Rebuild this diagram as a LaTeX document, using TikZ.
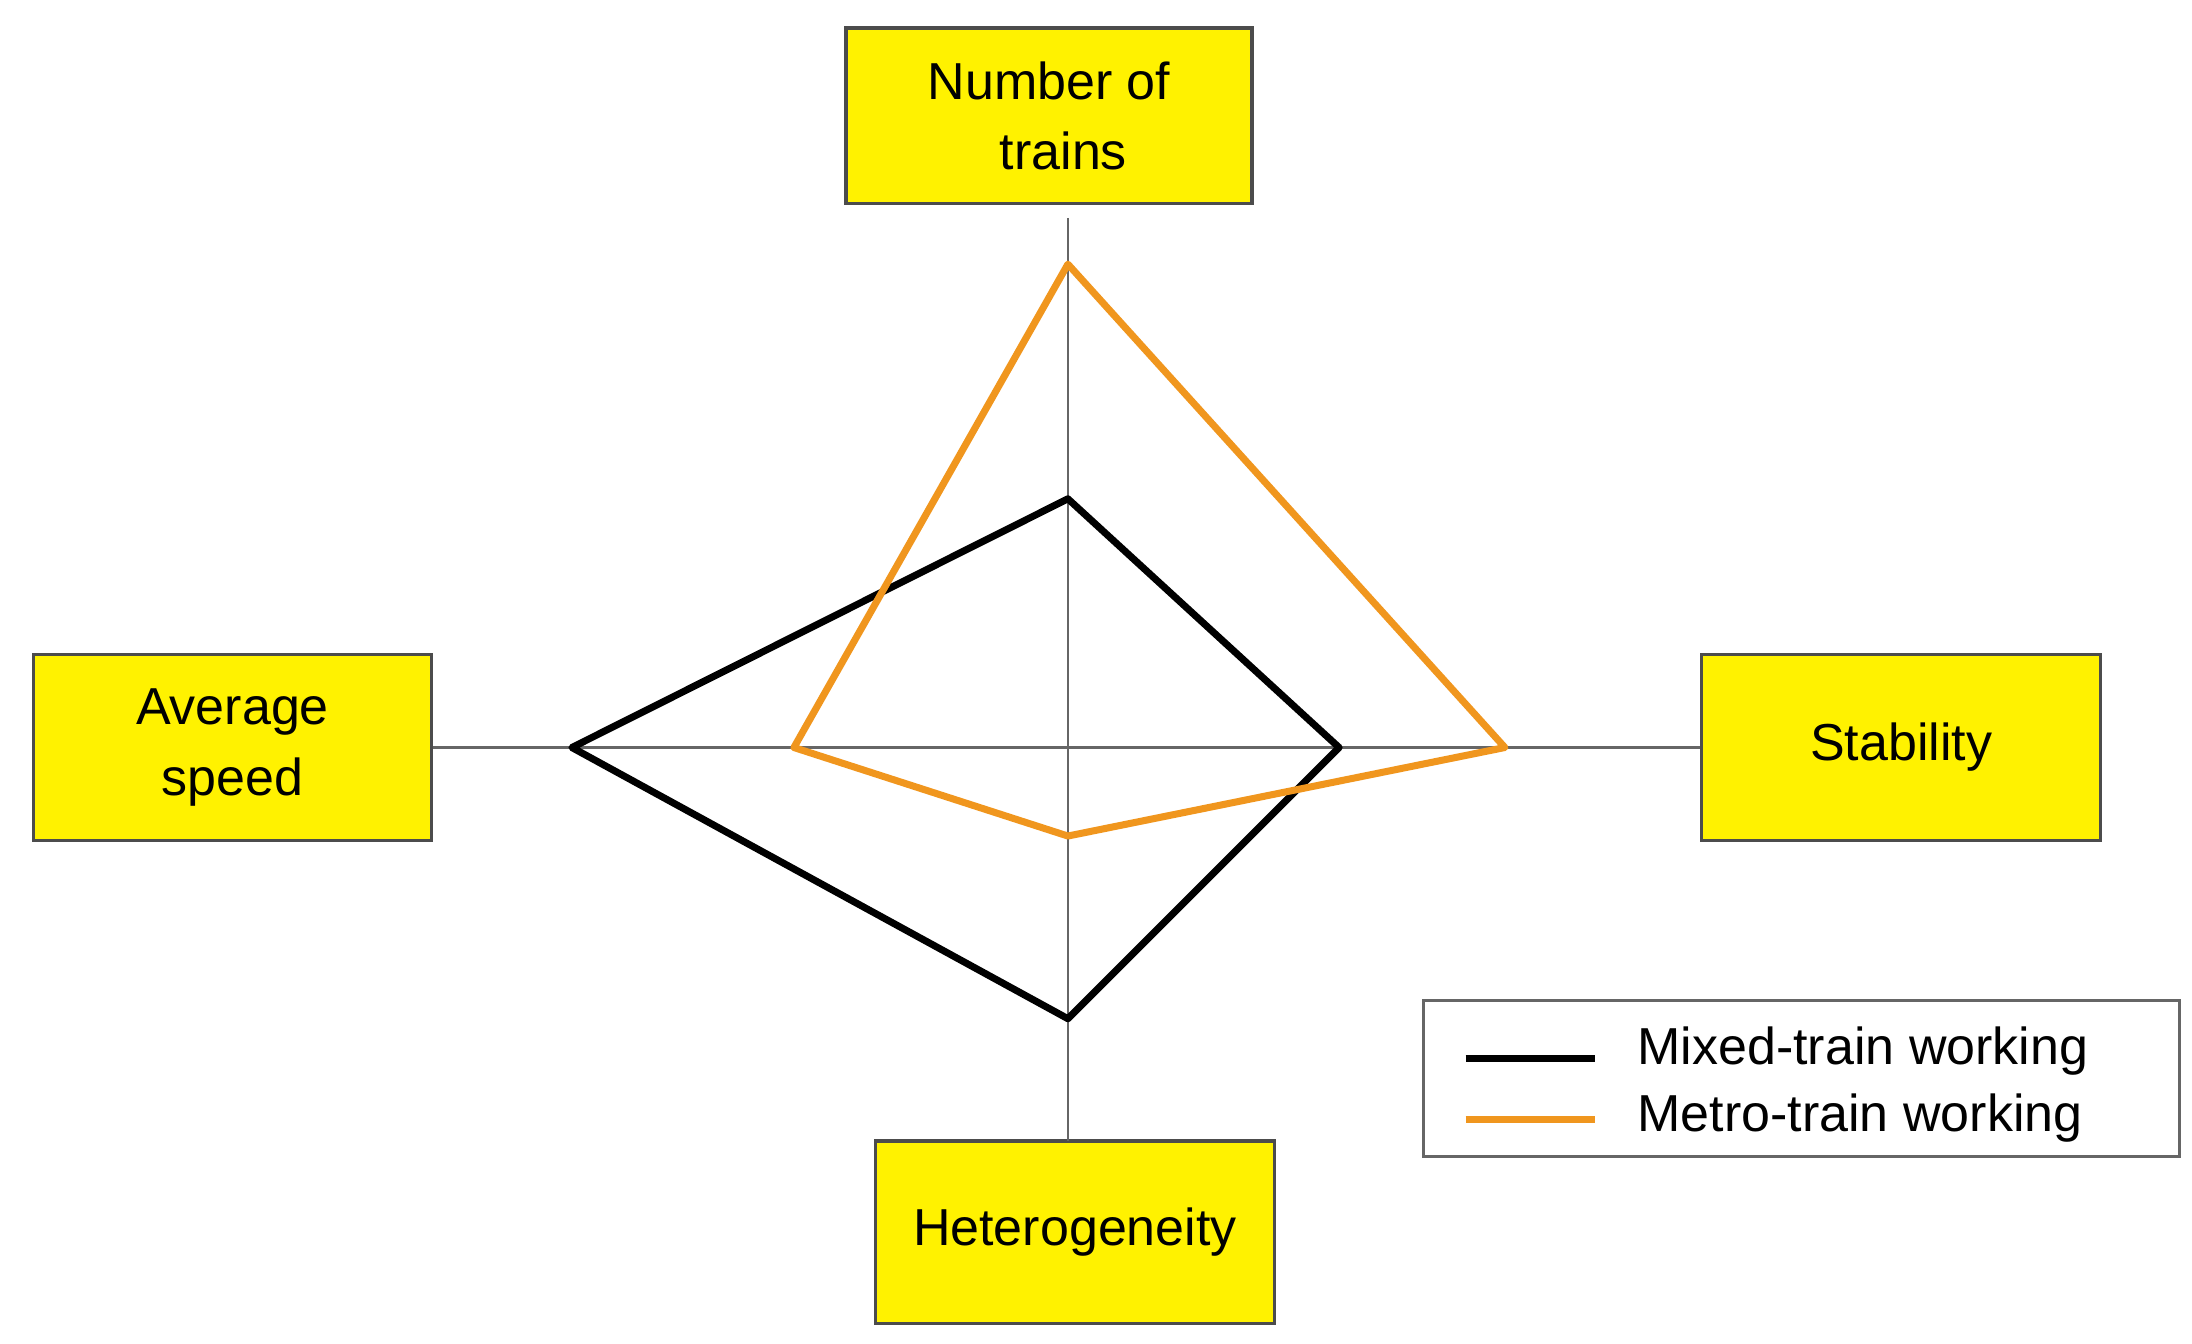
\documentclass[tikz,border=0pt]{standalone}
\usepackage{fontspec}
\setmainfont{Liberation Sans}
\definecolor{metroc}{RGB}{240,150,30}
\begin{document}
\begin{tikzpicture}[x=0.5pt,y=-0.5pt,
  box/.style={draw=black!70,fill=yellow,line width=1.2pt,inner sep=0pt,font=\fontsize{18.5}{25}\selectfont,align=center},
  axis/.style={draw=black!60,line width=1pt},
  mixed/.style={draw=black,line width=2.5pt,line join=round},
  metro/.style={draw=metroc,line width=2.5pt,line join=round},
  lab/.style={font=\fontsize{18.5}{22}\selectfont,anchor=west,inner sep=0pt}]
\useasboundingbox (0,0) rectangle (1560,955.8);
\node[box,minimum width=289*0.5pt,minimum height=125*0.5pt] (top) at (746.5,82.5) {Number of\\ \ \ trains};
\node[box,minimum width=283*0.5pt,minimum height=132*0.5pt] (left) at (165.5,532) {Average\\speed};
\node[box,minimum width=284*0.5pt,minimum height=132*0.5pt] (right) at (1353,532) {Stability};
\node[box,minimum width=284*0.5pt,minimum height=130*0.5pt] (bot) at (765,877) {Heterogeneity};
\coordinate (c) at (760,532);
\coordinate (vt) at (760,155);
\coordinate (vb) at (760,812);
\draw[axis] (vt) -- (vb);
\draw[axis] (left.east) -- (right.west);
\coordinate (k1) at (760,355); \coordinate (k2) at (953,532);
\coordinate (k3) at (760,725); \coordinate (k4) at (407,532);
\draw[mixed] (k1) -- (k2) -- (k3) -- (k4) -- cycle;
\coordinate (m1) at (760,188); \coordinate (m2) at (1071,532);
\coordinate (m3) at (760,595); \coordinate (m4) at (565,532);
\draw[metro] (m1) -- (m2) -- (m3) -- (m4) -- cycle;
\node[draw=black!60,line width=1pt,minimum width=538*0.5pt,minimum height=111*0.5pt,inner sep=0pt] (leg) at (1282,767.5) {};
\coordinate (la) at (1043,753); \coordinate (lb) at (1135,753);
\coordinate (lc) at (1043,797); \coordinate (ld) at (1135,797);
\draw[mixed] (la) -- (lb);
\draw[metro] (lc) -- (ld);
\node[lab] (t1) at (1165,748) {Mixed-train working};
\node[lab] (t2) at (1165,796) {Metro-train working};
\end{tikzpicture}
\end{document}
